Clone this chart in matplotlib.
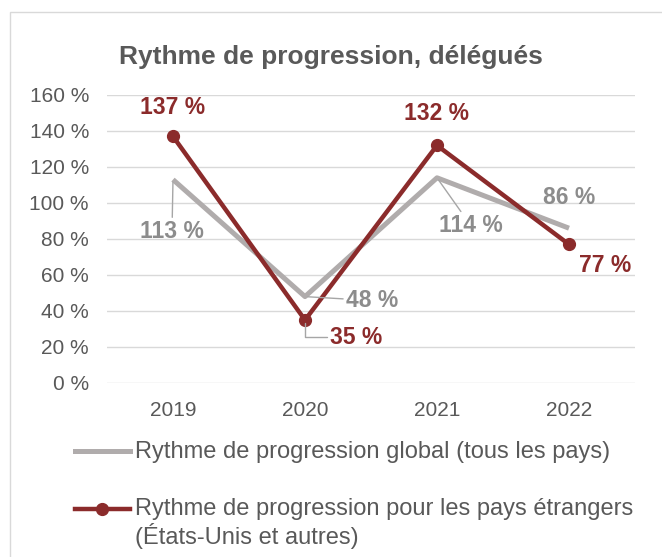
import matplotlib as mpl
import matplotlib.pyplot as plt
from matplotlib.lines import Line2D
from matplotlib.patches import Rectangle

mpl.rcParams['font.family'] = ['Liberation Sans', 'DejaVu Sans']

# Data
years = ['2019', '2020', '2021', '2022']
global_rate = [113, 48, 114, 86]
foreign_rate = [137, 35, 132, 77]
y_ticks = [0, 20, 40, 60, 80, 100, 120, 140, 160]

title_txt = "Rythme de progression, délégués"
label_global = "Rythme de progression global (tous les pays)"
label_foreign = "Rythme de progression pour les pays étrangers\n(États-Unis et autres)"

#Colours
grey_line = '#B0ACAC'
grey_txt = '#8C8C8C'
red = '#8B2B2B'
dark_txt = '#595959'
grid_col = '#D9D9D9'

W, H = 662, 557
fig = plt.figure(figsize=(W / 100, H / 100), dpi=100)
ax = fig.add_axes([107 / W, 1 - 383 / H, (635 - 107) / W, (383 - 95) / H])

x = list(range(len(years)))
ax.plot(x, global_rate, color=grey_line, lw=3.6, solid_capstyle='butt', zorder=3)
ax.plot(x, foreign_rate, color=red, lw=3.2, marker='o', ms=8.5, zorder=4)

ax.set_xlim(-0.5, len(years) - 0.5)
ax.set_ylim(0, 160)
ax.set_yticks(y_ticks)
ax.set_yticklabels(["%d %%" % v for v in y_ticks])
ax.set_xticks(x)
ax.set_xticklabels(years)
ax.tick_params(length=0, labelsize=15, labelcolor=dark_txt)
ax.tick_params(axis='y', pad=13)
ax.tick_params(axis='x', pad=13)
ax.grid(axis='y', color=grid_col, lw=1)
ax.set_axisbelow(True)
for s in ax.spines.values():
    s.set_visible(False)

#Data labels: (offset in pixels, leader line?)
lead = dict(arrowstyle='-', color='#A6A6A6', lw=1, shrinkA=0, shrinkB=2)
g_offs = [(-1, -52, True), (67, -4, True), (34, -48, True), (0, 31, False)]
r_offs = [(0, 29, False), (51, -17, True), (0, 32, False), (36, -21, False)]

for i, v in enumerate(global_rate):
    dx, dy, ld = g_offs[i]
    ax.annotate("%d %%" % v, xy=(i, v), xytext=(dx, dy), textcoords='offset pixels',
                ha='center', va='center', fontsize=16.5, fontweight='bold', color=grey_txt,
                arrowprops=lead if ld else None, zorder=5)

for i, v in enumerate(foreign_rate):
    dx, dy, ld = r_offs[i]
    props = None
    if ld:
        props = dict(lead, connectionstyle="angle,angleA=0,angleB=90,rad=0")
    ax.annotate("%d %%" % v, xy=(i, v), xytext=(dx, dy), textcoords='offset pixels',
                ha='center', va='center', fontsize=16.5, fontweight='bold', color=red,
                arrowprops=props, zorder=5)

#Title
fig.text(0.5, 1 - 57 / H, title_txt, ha='center', va='center', fontsize=19,
         fontweight='bold', color=dark_txt)

#Legend (drawn by hand so the handle sits on the first line)
fig.add_artist(Line2D([75 / W, 130 / W], [1 - 451 / H] * 2, color=grey_line, lw=3.6))
fig.text(135 / W, 1 - 452 / H, label_global, ha='left', va='center', fontsize=17, color=dark_txt)
fig.add_artist(Line2D([75 / W, 130 / W], [1 - 509 / H] * 2, color=red, lw=3.2))
fig.add_artist(Line2D([102 / W], [1 - 509 / H], color=red, marker='o', ms=8.5))
fig.text(135 / W, 1 - 544 / H, label_foreign, ha='left', va='baseline', fontsize=17,
         color=dark_txt, linespacing=1.14)

#Chart frame
fig.add_artist(Rectangle((10 / W, -0.1), 1.2, 1.1 - 12 / H, transform=fig.transFigure,
                         fill=False, edgecolor=grid_col, lw=1))

fig.savefig('out.png', dpi=100)
